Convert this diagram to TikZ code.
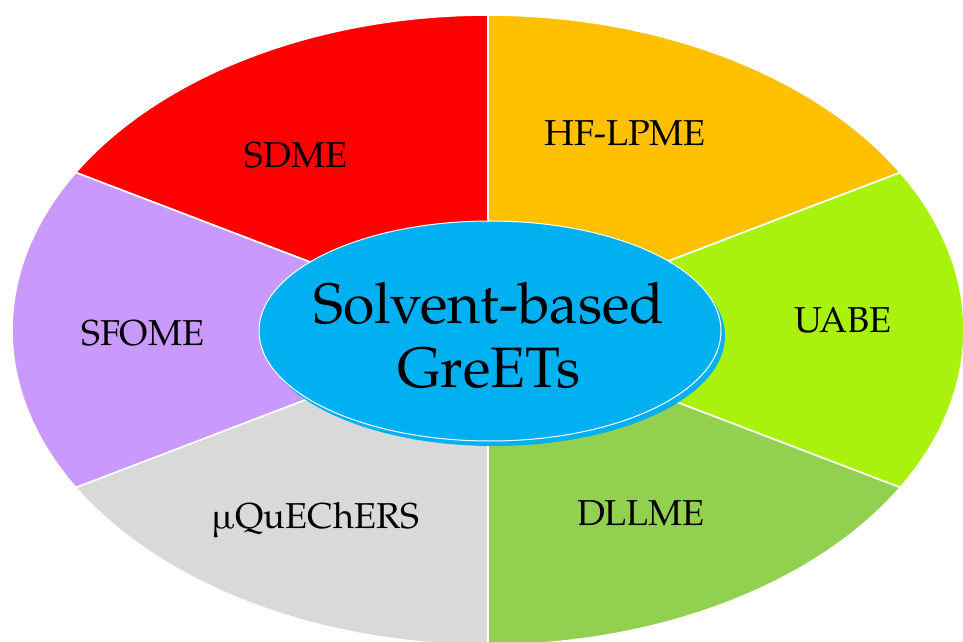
\documentclass[tikz,border=0pt]{standalone}
\usepackage{fontspec}
\setmainfont{TeX Gyre Pagella}
\definecolor{csdme}{HTML}{FF0000}
\definecolor{chf}{HTML}{FFC000}
\definecolor{cuabe}{HTML}{A8F20E}
\definecolor{cdll}{HTML}{92D050}
\definecolor{cqu}{HTML}{D9D9D9}
\definecolor{csfo}{HTML}{CA99FD}
\definecolor{ccen}{HTML}{00B0F0}
\begin{document}
\begin{tikzpicture}[x=1pt,y=1pt,
  seg/.style={draw=white, line width=1.6pt, line join=round},
  lab/.style={font=\fontsize{36}{40}\selectfont, text=black, inner sep=0pt},
  hubtext/.style={inner sep=0pt, align=center, font=\fontsize{57}{64}\selectfont}]
\useasboundingbox (0,0) rectangle (963,641);
\clip (0,0) rectangle (963,641);
\coordinate (c) at (488,311);
% ring sectors
\draw[seg, fill=csdme] (c) -- ++(90:476pt and 315pt) arc[start angle=90, end angle=150, x radius=476pt, y radius=315pt] -- cycle;
\draw[seg, fill=chf] (c) -- ++(30:476pt and 315pt) arc[start angle=30, end angle=90, x radius=476pt, y radius=315pt] -- cycle;
\draw[seg, fill=cuabe] (c) -- ++(-30:476pt and 315pt) arc[start angle=-30, end angle=30, x radius=476pt, y radius=315pt] -- cycle;
\draw[seg, fill=cdll] (c) -- ++(-90:476pt and 315pt) arc[start angle=-90, end angle=-30, x radius=476pt, y radius=315pt] -- cycle;
\draw[seg, fill=cqu] (c) -- ++(-150:476pt and 315pt) arc[start angle=-150, end angle=-90, x radius=476pt, y radius=315pt] -- cycle;
\draw[seg, fill=csfo] (c) -- ++(150:476pt and 315pt) arc[start angle=150, end angle=210, x radius=476pt, y radius=315pt] -- cycle;
% hub shadow and hub
\fill[ccen] (494,305) ellipse [x radius=231pt, y radius=110pt];
\draw[fill=ccen, draw=white, line width=1pt] (490,310) ellipse [x radius=231pt, y radius=110pt];
\node[hubtext] (hub) at (489,306) {Solvent-based\\GreETs};
% labels
\node[lab] (sdme) at (296,486) {SDME};
\node[lab] (hf) at (625,508) {HF-LPME};
\node[lab] (uabe) at (843,321) {UABE};
\node[lab] (sfome) at (143,308) {SFOME};
\node[lab] (qu) at (315,121) {µQuEChERS};
\node[lab] (dll) at (641,128) {DLLME};
\end{tikzpicture}
\end{document}
